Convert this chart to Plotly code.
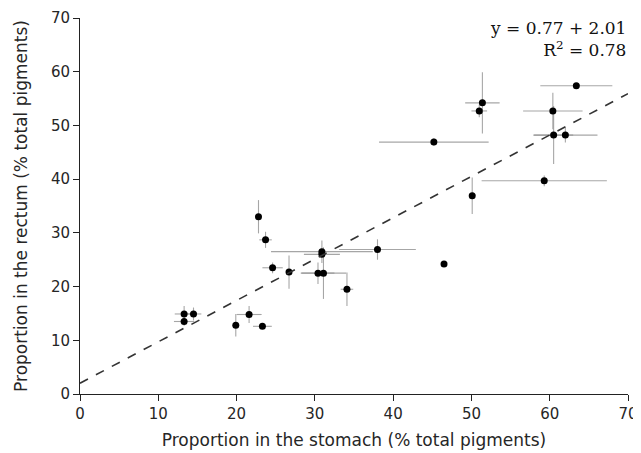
import plotly.graph_objects as go

# stomach (x) vs rectum (y), % of total pigments, with spread
stomach = [13.3, 14.5, 13.3, 19.9, 21.6, 23.3, 22.8, 23.7, 24.6, 26.7, 30.4, 31.1, 30.9, 30.9,
           34.1, 38.0, 46.5, 45.2, 50.1, 51.0, 51.4, 59.3, 60.4, 60.5, 62.0, 63.4]
rectum = [14.9, 14.9, 13.5, 12.8, 14.8, 12.6, 33.0, 28.7, 23.5, 22.7, 22.5, 22.5, 26.5, 26.0,
          19.5, 26.9, 24.2, 46.9, 36.9, 52.7, 54.2, 39.7, 52.7, 48.2, 48.2, 57.4]
stomach_err = [1.2, 1.0, 1.3, 0.0, 1.6, 1.2, 0.0, 0.8, 1.3, 0.0, 2.1, 2.9, 6.5, 2.3,
               0.8, 4.9, 0.0, 7.0, 0.0, 1.0, 2.2, 8.0, 3.8, 2.5, 4.1, 4.6]
rectum_err = [1.5, 1.2, 0.8, 2.1, 1.6, 0.5, 3.1, 1.5, 1.0, 3.1, 2.0, 4.8, 2.1, 0.6,
              3.1, 1.9, 0.5, 0.7, 3.4, 1.2, 5.7, 1.0, 3.4, 5.4, 1.4, 0.5]

intercept = 2.01
slope = 0.77
fit_x = [0, 70]
fit_y = [intercept + slope * v for v in fit_x]

fig = go.Figure()
fig.add_trace(go.Scatter(
    x=stomach, y=rectum, mode='markers',
    marker=dict(color='black', size=7),
    error_x=dict(type='data', array=stomach_err, color='rgba(150,150,150,0.85)', thickness=1.1, width=0),
    error_y=dict(type='data', array=rectum_err, color='rgba(150,150,150,0.85)', thickness=1.1, width=0),
    showlegend=False,
))
fig.add_trace(go.Scatter(
    x=fit_x, y=fit_y, mode='lines',
    line=dict(color='#333333', width=1.6, dash='dash'),
    showlegend=False,
))

axis_style = dict(
    range=[0, 70], dtick=10, showgrid=False, zeroline=False, automargin=False,
    showline=True, linecolor='#222222', linewidth=1,
    ticks='outside', ticklen=6, tickcolor='#222222',
    tickfont=dict(family='DejaVu Sans', size=15, color='#262626'),
)

# page body adds 8px, so the figure is a bit smaller than the window
fig.update_layout(
    width=633, height=445,
    margin=dict(l=72, r=13, t=10, b=59),
    plot_bgcolor='white', paper_bgcolor='white',
    xaxis=dict(title=dict(text='Proportion in the stomach (% total pigments)',
                          font=dict(family='DejaVu Sans', size=17, color='#262626'), standoff=12),
               **axis_style),
    yaxis=dict(title=dict(text='Proportion in the rectum (% total pigments)',
                          font=dict(family='DejaVu Sans', size=17, color='#262626'), standoff=18),
               **axis_style),
)

fig.add_annotation(x=1, y=1, xref='paper', yref='paper', xanchor='right', yanchor='top',
                   text='y = 0.77 + 2.01<br>R<sup>2</sup> = 0.78', showarrow=False, align='right',
                   font=dict(family='DejaVu Serif', size=17, color='#111111'), yshift=2)

fig.write_html("out.html")
